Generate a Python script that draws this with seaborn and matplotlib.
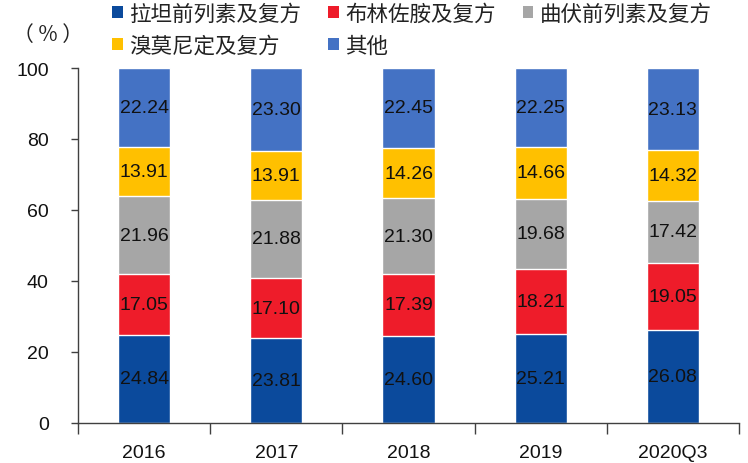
import matplotlib
matplotlib.use("Agg")
import matplotlib.pyplot as plt
import seaborn as sns
import pandas as pd
import numpy as np
from matplotlib.patches import Patch

# data
years = ["2016", "2017", "2018", "2019", "2020Q3"]
series_names = ["拉坦前列素及复方", "布林佐胺及复方", "曲伏前列素及复方", "溴莫尼定及复方", "其他"]
latanoprost = [24.84, 23.81, 24.60, 25.21, 26.08]
brinzolamide = [17.05, 17.10, 17.39, 18.21, 19.05]
travoprost = [21.96, 21.88, 21.30, 19.68, 17.42]
brimonidine = [13.91, 13.91, 14.26, 14.66, 14.32]
others = [22.24, 23.30, 22.45, 22.25, 23.13]
colors = ["#0b4a9c", "#ee1c2a", "#a6a6a6", "#ffc000", "#4472c4"]

sns.set_theme(style="white")
plt.rcParams["font.family"] = ["Noto Sans CJK SC", "DejaVu Sans"]

values = [latanoprost, brinzolamide, travoprost, brimonidine, others]
df = pd.DataFrame({"year": years})
for name, vals in zip(series_names, values):
    df[name] = vals
cum = df[series_names].cumsum(axis=1)

fig = plt.figure(figsize=(7.48, 4.64), dpi=100)
ax = fig.add_axes([78 / 748, 40 / 464, 661 / 748, 355 / 464])

# draw from the top layer down so lower layers sit over upper ones
for name, color in reversed(list(zip(series_names, colors))):
    sns.barplot(x=df["year"], y=cum[name], color=color, width=0.394,
                saturation=1, ax=ax, order=years)

num_font = dict(family="Liberation Sans", fontsize=14, color="#111111")
for i in range(len(years)):
    bottom = 0
    for name in series_names:
        v = df.loc[i, name]
        ax.text(i, bottom + v / 2, f"{v:.2f}", ha="center", va="center", **num_font)
        bottom += v

ax.set_xlim(-0.5, len(years) - 0.5)
ax.set_ylim(0, 100)
ax.set_yticks(np.arange(0, 101, 20))
ax.set_xlabel("")
ax.set_ylabel("")
ax.set_xticks(np.arange(-0.5, len(years), 1), minor=False)
ax.set_xticklabels([])
ax.set_xticks(range(len(years)), minor=True)
ax.set_xticklabels(years, minor=True, family="Liberation Sans", fontsize=14,
                   color="#111111")
ax.tick_params(axis="x", which="major", direction="out", length=8, width=1,
               color="#404040", bottom=True)
ax.tick_params(axis="x", which="minor", length=0, pad=15)
ax.tick_params(axis="y", direction="out", length=5, width=1, color="#404040",
               left=True, labelsize=14, pad=16)
for lab in ax.get_yticklabels():
    lab.set_family("Liberation Sans")
    lab.set_color("#111111")

sns.despine(ax=ax, top=True, right=True)
for side in ["left", "bottom"]:
    ax.spines[side].set_color("#404040")
    ax.spines[side].set_linewidth(1)
ax.grid(False)

handles = [Patch(facecolor=c, edgecolor="none") for c in colors]
order = [0, 3, 1, 4, 2]
fig.legend([handles[k] for k in order], [series_names[k] for k in order],
           ncol=3, loc="upper left", bbox_to_anchor=(101 / 748, 1.015),
           frameon=False, fontsize=15.5, handlelength=0.5, handleheight=0.5,
           handletextpad=0.3, columnspacing=1.25, labelspacing=0.45,
           borderaxespad=0.1, labelcolor="#222222")

fig.text(48 / 748, 1 - 35 / 464, "（ % ）", ha="center", va="center", fontsize=15,
         color="#222222")

fig.savefig("out.png", dpi=100)
